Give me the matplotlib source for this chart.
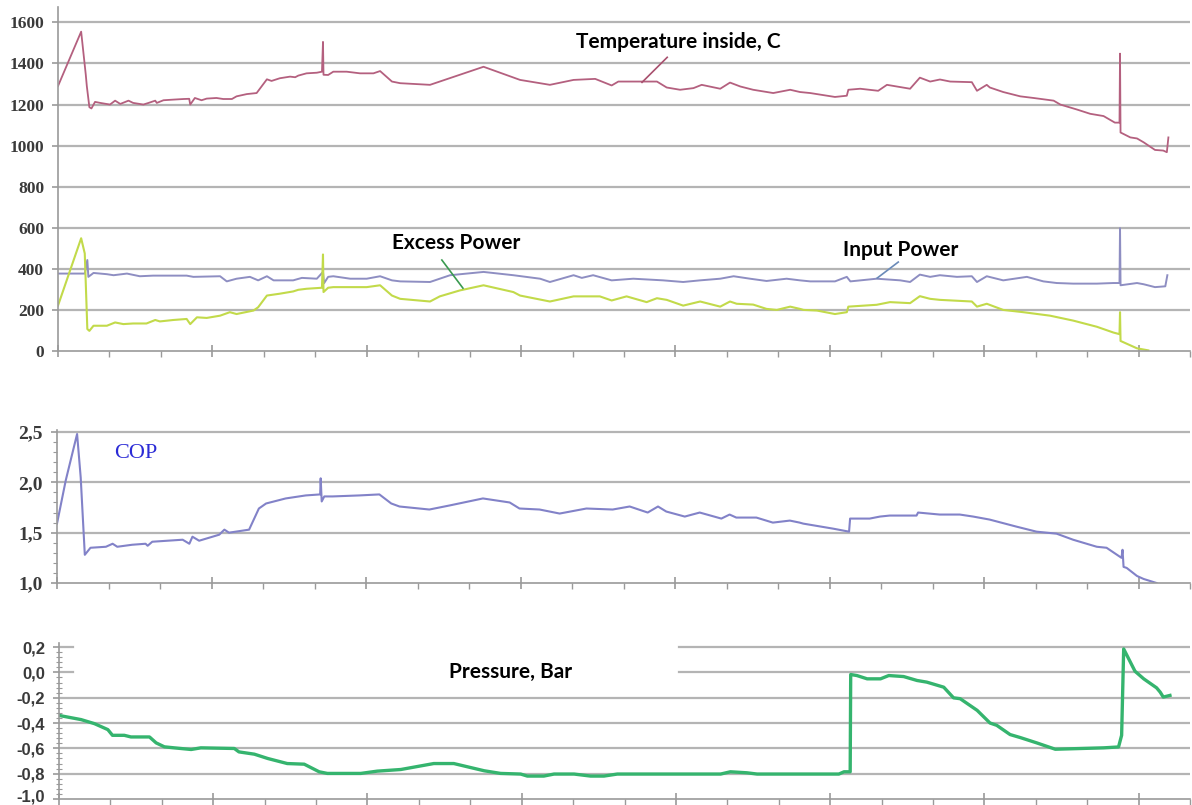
import numpy as np
import matplotlib
matplotlib.use("Agg")
from matplotlib import pyplot as plt
from matplotlib.ticker import MultipleLocator
from matplotlib.transforms import ScaledTranslation

# temperature inside, C
temp_t = [0.0, 0.45, 0.54, 0.56, 0.61, 0.65, 0.72, 0.82, 1.01, 1.11, 1.21, 1.37, 1.46, 1.66, 1.76,
          1.89, 1.92, 2.05, 2.24, 2.44, 2.55, 2.57, 2.66, 2.79, 2.89, 3.08, 3.21, 3.38, 3.47, 3.67,
          3.86, 4.06, 4.15, 4.31, 4.51, 4.61, 4.67, 4.83, 5.03, 5.13, 5.15, 5.16, 5.25, 5.35, 5.61,
          5.87, 6.13, 6.26, 6.49, 6.65, 7.23, 8.27, 8.98, 9.56, 10.02, 10.44, 10.76, 10.89, 11.31,
          11.64, 11.83, 12.09, 12.35, 12.51, 12.87, 13.06, 13.26, 13.51, 13.90, 14.23, 14.42, 14.62,
          15.10, 15.33, 15.36, 15.59, 15.94, 16.11, 16.56, 16.75, 16.95, 17.14, 17.34, 17.76, 17.86,
          18.05, 18.11, 18.37, 18.70, 18.96, 19.35, 19.48, 19.80, 20.06, 20.32, 20.54, 20.63, 20.64,
          20.65, 20.84, 20.97, 21.10, 21.32, 21.48, 21.55, 21.58]
temp_v = [1290, 1555, 1345, 1290, 1187, 1181, 1213, 1208, 1200, 1219, 1203, 1219, 1208, 1200, 1208,
          1219, 1208, 1221, 1224, 1227, 1228, 1200, 1232, 1221, 1229, 1232, 1227, 1227, 1240, 1251,
          1256, 1323, 1315, 1328, 1336, 1333, 1341, 1352, 1355, 1360, 1505, 1345, 1344, 1360, 1360,
          1352, 1352, 1363, 1312, 1304, 1296, 1384, 1320, 1296, 1320, 1325, 1293, 1312, 1312,
          1312, 1283, 1272, 1280, 1296, 1277, 1307, 1288, 1272, 1256, 1272, 1261, 1256,
          1237, 1243, 1272, 1277, 1267, 1296, 1277, 1331, 1312, 1322, 1312, 1309, 1267,
          1296, 1283, 1261, 1240, 1232, 1219, 1200, 1176, 1155, 1144, 1112, 1112, 1448,
          1064, 1040, 1035, 1016, 979, 976, 968, 1040]

# input power
inp_t = [0.0, 0.52, 0.57, 0.59, 0.69, 0.95, 1.08, 1.34, 1.59, 1.85, 2.50, 2.63, 3.15, 3.28, 3.47,
         3.73, 3.89, 4.06, 4.19, 4.57, 4.74, 5.03, 5.15, 5.17, 5.25, 5.35, 5.68, 6.00, 6.26, 6.49,
         6.65, 7.23, 7.62, 8.27, 8.85, 9.37, 9.56, 10.02, 10.18, 10.40, 10.76, 11.18, 11.76, 12.15,
         12.48, 12.87, 13.13, 13.45, 13.77, 14.16, 14.42, 14.62, 15.10, 15.33, 15.40, 15.91, 16.37,
         16.56, 16.75, 16.95, 17.14, 17.47, 17.76, 17.86, 18.05, 18.37, 18.83, 19.15, 19.41, 19.73,
         20.19, 20.51, 20.63, 20.64, 20.65, 20.97, 21.10, 21.32, 21.52, 21.56]
inp_v = [377, 377, 443, 361, 380, 374, 369, 377, 364, 367, 367, 361, 364, 339, 352,
         361, 344, 364, 344, 344, 356, 352, 385, 330, 361, 364, 352, 352, 364, 344,
         339, 336, 369, 385, 369, 352, 336, 369, 356, 369, 344, 352, 344, 336,
         344, 352, 364, 352, 341, 352, 344, 339, 339, 361, 339, 352, 344,
         336, 372, 361, 369, 361, 364, 336, 364, 344, 361, 339, 331, 328,
         328, 331, 331, 598, 320, 331, 325, 311, 315, 369]

# excess power
exc_t = [0.0, 0.45, 0.52, 0.57, 0.61, 0.69, 0.95, 1.11, 1.27, 1.46, 1.72, 1.89, 1.98, 2.24, 2.50,
         2.57, 2.70, 2.89, 3.15, 3.34, 3.47, 3.80, 3.89, 4.06, 4.31, 4.57, 4.67, 4.83, 5.13, 5.15,
         5.16, 5.25, 5.35, 6.00, 6.26, 6.49, 6.65, 7.23, 7.42, 7.81, 8.27, 8.85, 8.98, 9.56, 10.02,
         10.53, 10.76, 11.05, 11.44, 11.64, 11.83, 12.15, 12.48, 12.87, 13.06, 13.19, 13.51, 13.77,
         13.97, 14.23, 14.42, 14.49, 14.75, 15.10, 15.33, 15.36, 15.91, 16.17, 16.56, 16.75, 16.95,
         17.14, 17.76, 17.86, 18.05, 18.37, 18.76, 19.28, 19.73, 20.19, 20.51, 20.63, 20.64, 20.65,
         20.97, 21.19]
exc_v = [221, 549, 475, 107, 98, 123, 123, 139, 131, 134, 134, 151, 144, 151, 156,
         131, 164, 161, 172, 189, 180, 197, 213, 270, 279, 290, 298, 303, 308, 470,
         287, 308, 311, 311, 320, 270, 254, 241, 266, 295, 320, 287, 270, 241, 266,
         266, 246, 266, 238, 257, 249, 221, 241, 216, 241, 230, 226, 205,
         200, 216, 205, 200, 197, 180, 189, 216, 225, 238, 233, 267, 254,
         249, 241, 216, 230, 200, 189, 172, 148, 118, 90, 82, 189, 49,
         13, 3]

# COP
cop_t = [0.0, 0.17, 0.39, 0.46, 0.54, 0.65, 0.95, 1.08, 1.17, 1.46, 1.72, 1.76, 1.85, 2.44, 2.57,
         2.63, 2.76, 3.15, 3.25, 3.34, 3.73, 3.92, 4.06, 4.44, 4.83, 5.11, 5.12, 5.14, 5.19, 5.35,
         5.87, 6.26, 6.49, 6.65, 7.23, 7.62, 8.27, 8.79, 8.98, 9.37, 9.76, 10.28, 10.79, 11.12,
         11.47, 11.67, 11.83, 12.19, 12.48, 12.90, 13.06, 13.19, 13.58, 13.90, 14.23, 14.42, 14.49,
         15.07, 15.38, 15.40, 15.78, 15.98, 16.17, 16.69, 16.72, 17.14, 17.53, 17.79, 18.11, 18.63,
         19.02, 19.41, 19.73, 20.19, 20.38, 20.67, 20.69, 20.71, 20.77, 20.97, 21.10, 21.35]
cop_v = [1.59, 2.02, 2.48, 2.05, 1.28, 1.35, 1.36, 1.39, 1.36, 1.38, 1.39, 1.37, 1.41, 1.43, 1.39,
         1.46, 1.42, 1.48, 1.53, 1.50, 1.53, 1.74, 1.79, 1.84, 1.87, 1.88, 2.04, 1.81, 1.86, 1.86,
         1.87, 1.88, 1.79, 1.76, 1.73, 1.77, 1.84, 1.80, 1.74, 1.73, 1.69, 1.74, 1.73, 1.76,
         1.70, 1.76, 1.71, 1.66, 1.70, 1.64, 1.68, 1.65, 1.65, 1.60, 1.62, 1.60, 1.59,
         1.54, 1.51, 1.64, 1.64, 1.66, 1.67, 1.67, 1.70, 1.68, 1.68, 1.66, 1.63, 1.56,
         1.51, 1.49, 1.43, 1.36, 1.35, 1.25, 1.33, 1.16, 1.15, 1.07, 1.04, 1.00]

# pressure, bar
pres_t = [0.0, 0.43, 0.69, 0.95, 1.04, 1.27, 1.40, 1.76, 1.89, 2.05, 2.24, 2.57, 2.76, 3.41, 3.50,
          3.80, 4.06, 4.44, 4.77, 5.06, 5.22, 5.87, 6.19, 6.65, 7.29, 7.68, 8.27, 8.59, 8.98, 9.11,
          9.43, 9.63, 10.02, 10.34, 10.60, 10.86, 12.87, 13.06, 13.38, 13.58, 15.17, 15.27, 15.39,
          15.40, 15.52, 15.72, 15.98, 16.14, 16.43, 16.69, 16.88, 17.21, 17.40, 17.53, 17.86, 18.11,
          18.24, 18.50, 18.70, 19.02, 19.38, 20.32, 20.61, 20.67, 20.71, 20.93, 21.10, 21.35, 21.42,
          21.48, 21.61]
pres_v = [-0.34, -0.373, -0.405, -0.452, -0.497, -0.497, -0.51, -0.51, -0.557, -0.588, -0.596,
          -0.609, -0.596, -0.601, -0.628, -0.646, -0.68, -0.72, -0.725, -0.785, -0.798, -0.798,
          -0.78, -0.767, -0.72, -0.72, -0.777, -0.798, -0.803, -0.819, -0.819, -0.803, -0.803,
          -0.819, -0.819, -0.803, -0.803, -0.785, -0.793, -0.803, -0.803, -0.785, -0.785,
          -0.017, -0.025, -0.051, -0.051, -0.025, -0.033, -0.064, -0.077, -0.117, -0.201, -0.208,
          -0.30, -0.40, -0.418, -0.491, -0.515, -0.557, -0.607, -0.596, -0.589, -0.497, 0.185,
          0.009, -0.051, -0.122, -0.156, -0.195, -0.182]

grid_c = '#b4b4b4'
tick_c = '#9a9a9a'
label_c = '#3a3a3a'
note_font = 'Lato'

W, H = 1192, 805
fig = plt.figure(figsize=(W / 100, H / 100), dpi=100)


def style_axis(ax, ylim, yticks, ylabels, label_font, label_size, grid_vals):
    ax.set_xlim(0, 22)
    ax.set_ylim(*ylim)
    for s in ['top', 'right']:
        ax.spines[s].set_visible(False)
    for s in ['left', 'bottom']:
        ax.spines[s].set_color(tick_c)
        ax.spines[s].set_linewidth(1.2)
    ax.xaxis.set_major_locator(MultipleLocator(3))
    ax.xaxis.set_minor_locator(MultipleLocator(1))
    ax.tick_params(axis='x', which='major', direction='inout', length=9, width=1.2,
                   color=tick_c, labelbottom=False)
    ax.tick_params(axis='x', which='minor', direction='out', length=4, width=1.0, color=tick_c)
    ax.set_yticks(yticks)
    ax.set_yticklabels(ylabels)
    ax.tick_params(axis='y', which='major', direction='out', length=4, width=1.2,
                   color=tick_c, pad=6)
    for lab in ax.get_yticklabels():
        lab.set_fontfamily(label_font)
        lab.set_fontweight('bold')
        lab.set_fontsize(label_size)
        lab.set_color(label_c)
    for g in grid_vals:
        ax.axhline(g, color=grid_c, lw=1.6, zorder=0)


# temperature and power
ax1 = fig.add_axes([58 / W, 1 - 351 / H, 1132 / W, 344 / H])
t_ticks = list(range(0, 1601, 200))
style_axis(ax1, (0, 1675), t_ticks, [str(v) for v in t_ticks], 'Liberation Serif', 12.5,
           range(200, 1601, 200))
ax1.plot(temp_t, temp_v, color='#b4607f', lw=1.3)
ax1.plot(inp_t, inp_v, color='#8e8ec2', lw=1.4)
ax1.plot(exc_t, exc_v, color='#c2da4a', lw=1.5)

ax1.text(12.05, 1503, 'Temperature inside, C', fontfamily=note_font, fontweight='bold',
         fontsize=15, ha='center', va='center', color='black')
ax1.plot([11.84, 11.35], [1430, 1308], color='#a8506e', lw=1.2)
ax1.text(7.74, 525, 'Excess Power', fontfamily=note_font, fontweight='bold',
         fontsize=15, ha='center', va='center', color='black')
ax1.plot([7.46, 7.87], [443, 306], color='#3a9a50', lw=1.2)
ax1.text(16.37, 491, 'Input Power', fontfamily=note_font, fontweight='bold',
         fontsize=15, ha='center', va='center', color='black')
ax1.plot([16.33, 15.92], [433, 355], color='#6a8ab8', lw=1.2)

# COP
ax2 = fig.add_axes([57 / W, 1 - 583 / H, 1133 / W, 153 / H])
style_axis(ax2, (1.0, 2.52), [1.0, 1.5, 2.0, 2.5], ['1,0', '1,5', '2,0', '2,5'],
           'Liberation Serif', 14, [1.5, 2.0, 2.5])
ax2.yaxis.set_minor_locator(MultipleLocator(0.1))
ax2.tick_params(axis='y', which='minor', direction='out', length=3, width=0.8, color=tick_c)
ax2.plot(cop_t, cop_v, color='#8282c8', lw=1.5)
ax2.text(1.52, 2.29, 'COP', fontfamily='Liberation Serif', fontsize=16,
         ha='center', va='center', color='#2b2bd6')

# pressure
ax3 = fig.add_axes([59 / W, 1 - 799 / H, 1131 / W, 156 / H])
style_axis(ax3, (-1.0, 0.232), [-1.0, -0.8, -0.6, -0.4, -0.2, 0.0, 0.2],
           ['-1,0', '-0,8', '-0,6', '-0,4', '-0,2', '0,0', '0,2'],
           'Liberation Sans', 12, [-0.8, -0.6, -0.4, -0.2])
ax3.yaxis.set_minor_locator(MultipleLocator(0.04))
ax3.tick_params(axis='y', which='minor', direction='inout', length=4, width=0.8, color=tick_c)
# lowest label sits right at the page edge, lift it a little
low = ax3.get_yticklabels()[0]
low.set_transform(low.get_transform() + ScaledTranslation(0, 4 / 100, fig.dpi_scale_trans))
for g in [0.0, 0.2]:
    ax3.axhline(g, xmin=0, xmax=0.012, color=grid_c, lw=1.6, zorder=0)
    ax3.axhline(g, xmin=0.548, xmax=1, color=grid_c, lw=1.6, zorder=0)
ax3.plot(pres_t, pres_v, color='#35b46e', lw=2.4)
ax3.text(8.79, 0.003, 'Pressure, Bar', fontfamily=note_font, fontweight='bold',
         fontsize=15, ha='center', va='center', color='black')

fig.savefig('out.png', dpi=100)
